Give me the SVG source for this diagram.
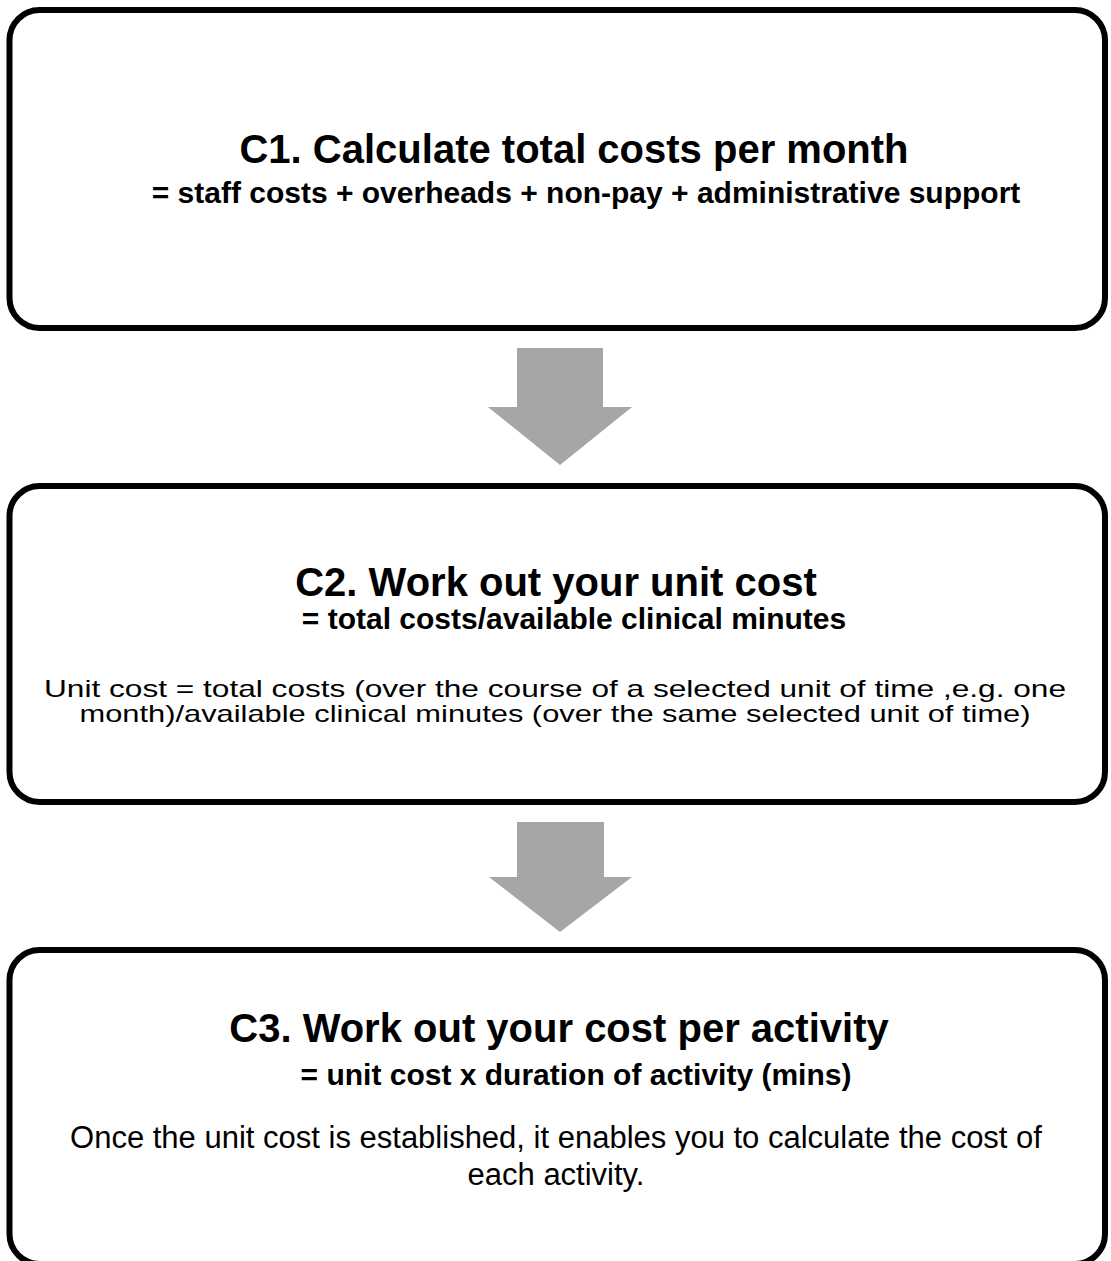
<svg xmlns="http://www.w3.org/2000/svg" width="1111" height="1261" viewBox="0 0 1111 1261">
  <style>
    .box { fill: #ffffff; stroke: #000000; stroke-width: 6; }
    .arrow { fill: #a6a6a6; }
    text { font-family: "Liberation Sans", Arial, sans-serif; fill: #000000; text-anchor: middle; }
    .title { font-size: 40px; font-weight: bold; }
    .sub { font-size: 30px; font-weight: bold; }
    .body { font-size: 31px; }
    .body-tight { font-size: 24px; }
  </style>
  <rect width="1111" height="1261" fill="#ffffff"/>

  <g id="connectors">
    <polygon class="arrow" points="517,348 603,348 603,407 632,407 560,465 488,407 517,407"/>
    <polygon class="arrow" points="517,822 604,822 604,877 632,877 560,932 489,877 517,877"/>
  </g>

  <g id="c1">
    <rect class="box" x="9.5" y="10" width="1095.5" height="318" rx="30" ry="30"/>
    <text class="title" x="574" y="163">C1. Calculate total costs per month</text>
    <text class="sub" x="586" y="203">= staff costs + overheads + non-pay + administrative support</text>
  </g>

  <g id="c2">
    <rect class="box" x="9.5" y="486" width="1095.5" height="316" rx="30" ry="30"/>
    <text class="title" x="556" y="596">C2. Work out your unit cost</text>
    <text class="sub" x="574" y="629">= total costs/available clinical minutes</text>
    <!-- two tightly spaced lines, widened to the box width -->
    <text class="body-tight" x="555" y="697" textLength="1022" lengthAdjust="spacingAndGlyphs">Unit cost = total costs (over the course of a selected unit of time ,e.g. one</text>
    <text class="body-tight" x="555" y="722" textLength="951" lengthAdjust="spacingAndGlyphs">month)/available clinical minutes (over the same selected unit of time)</text>
  </g>

  <g id="c3">
    <rect class="box" x="9.5" y="950" width="1095.5" height="314" rx="30" ry="30"/>
    <text class="title" x="559" y="1042">C3. Work out your cost per activity</text>
    <text class="sub" x="576" y="1085">= unit cost x duration of activity (mins)</text>
    <text class="body" x="556" y="1148">Once the unit cost is established, it enables you to calculate the cost of</text>
    <text class="body" x="556" y="1185">each activity.</text>
  </g>
</svg>
